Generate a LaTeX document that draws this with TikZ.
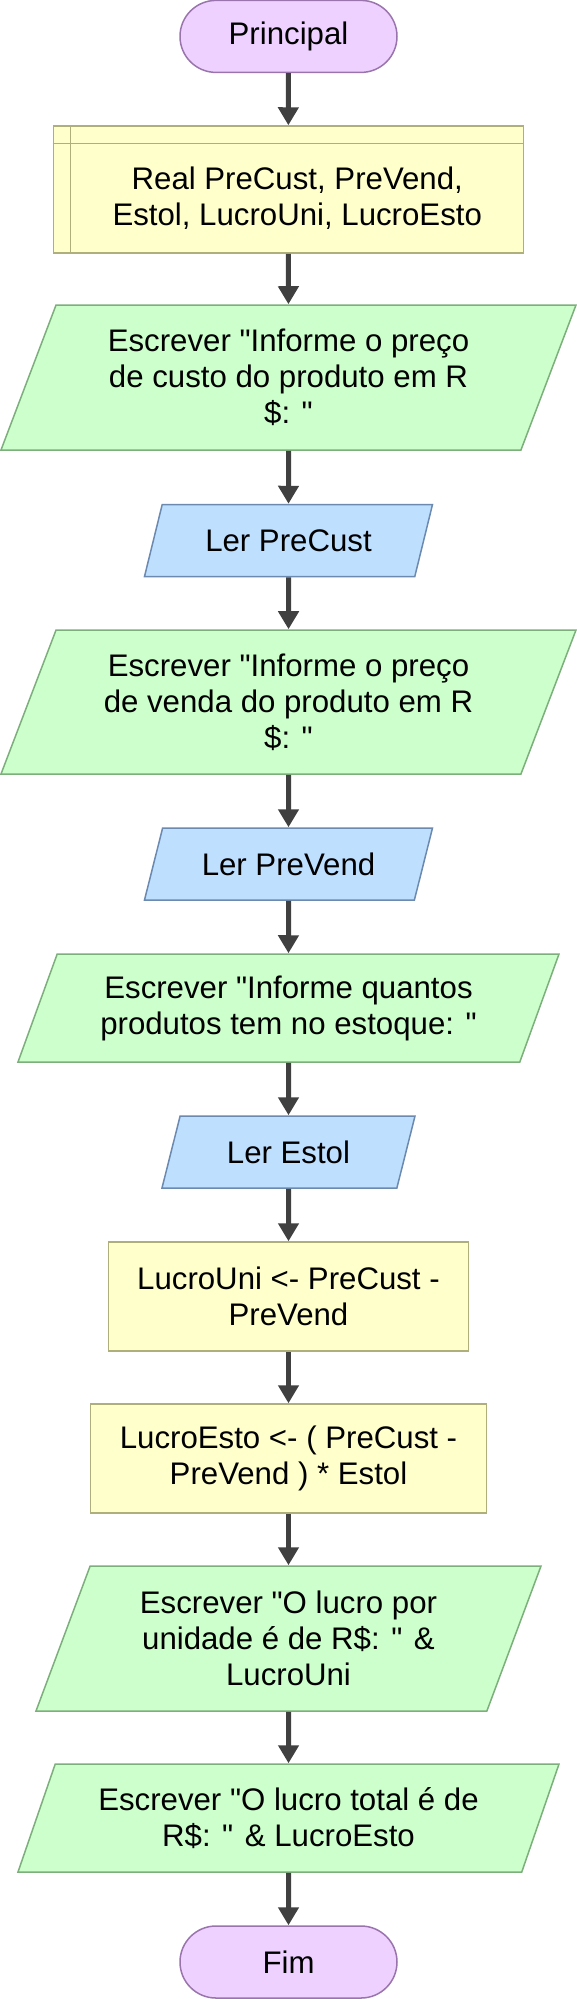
\documentclass[tikz,border=0pt]{standalone}
\usepackage{fontspec}
\setmainfont{Liberation Sans}
\usetikzlibrary{arrows.meta, positioning, shapes.geometric}
\definecolor{TermFill}{HTML}{EFD1FF}
\definecolor{TermLine}{HTML}{9A75AD}
\definecolor{ProcFill}{HTML}{FFFFCC}
\definecolor{ProcLine}{HTML}{AFAF7C}
\definecolor{OutFill}{HTML}{CCFFCC}
\definecolor{OutLine}{HTML}{7DAF7D}
\definecolor{InFill}{HTML}{BFDFFF}
\definecolor{InLine}{HTML}{6C8AB0}
\definecolor{FlowLine}{HTML}{404040}
\newcommand{\qq}{\textquotedbl}

\begin{document}
\begin{tikzpicture}[
        x=0.5pt, y=-0.5pt,
        every node/.style={font=\fontsize{15.6}{18}\selectfont, align=center, line width=0.75pt},
        terminal/.style={rectangle, rounded corners=18pt, fill=TermFill, draw=TermLine, minimum width=108.5pt, minimum height=36pt},
        decl/.style={rectangle, fill=ProcFill, draw=ProcLine, minimum width=235pt, minimum height=63.5pt},
        proc/.style={rectangle, fill=ProcFill, draw=ProcLine, minimum height=54.5pt},
        slanted/.style={trapezium, trapezium left angle=63.43, trapezium right angle=116.57, trapezium stretches body},
        outbox/.style={slanted, fill=OutFill, draw=OutLine},
        inbox/.style={slanted, fill=InFill, draw=InLine, minimum height=36pt},
        flow/.style={draw=FlowLine, line width=2.5pt, -{Triangle[width=10pt, length=9pt]}}
    ]

    % Background
    \fill[white] (0,0) rectangle (577,1999);
    \useasboundingbox (0,0) rectangle (577,1999);

    % Start and declarations
    \node[terminal] (principal) at (288.5,36.4) {Principal};
    \node[decl] (decl) at (288.25,189.5) {};
    \draw[ProcLine, line width=0.75pt] ([xshift=9pt]decl.north west) -- ([xshift=9pt]decl.south west);
    \draw[ProcLine, line width=0.75pt] ([yshift=-9pt]decl.north west) -- ([yshift=-9pt]decl.north east);
    \node (decltext) at ([shift={(4.5pt,-4.5pt)}]decl.center) {Real PreCust, PreVend,\\Estol, LucroUni, LucroEsto};

    % Reading the values
    \node[outbox, minimum width=287.5pt, minimum height=72.5pt] (escrevecusto) at (288.5,377.5) {Escrever \qq Informe o preço\\de custo do produto em R\\\$: \qq};
    \node[inbox, minimum width=144pt] (lercusto) at (288.5,540.5) {Ler PreCust};
    \node[outbox, minimum width=287.5pt, minimum height=72pt] (escrevevenda) at (288.5,702) {Escrever \qq Informe o preço\\de venda do produto em R\\\$: \qq};
    \node[inbox, minimum width=144pt] (lervenda) at (288.5,864) {Ler PreVend};
    \node[outbox, minimum width=270.5pt, minimum height=54pt] (escreveestoque) at (288.5,1008) {Escrever \qq Informe quantos\\produtos tem no estoque: \qq};
    \node[inbox, minimum width=126.5pt] (lerestoque) at (288.5,1152) {Ler Estol};

    % Calculations
    \node[proc, minimum width=180pt] (lucrouni) at (288.5,1296.5) {LucroUni <- PreCust -\\PreVend};
    \node[proc, minimum width=198pt] (lucroesto) at (288.5,1458.5) {LucroEsto <- ( PreCust -\\PreVend ) * Estol};

    % Results
    \node[outbox, minimum width=252.5pt, minimum height=72.5pt] (escreveuni) at (288.5,1638.5) {Escrever \qq O lucro por\\unidade é de R\$: \qq{} \&\\LucroUni};
    \node[outbox, minimum width=270.5pt, minimum height=54pt] (escrevetotal) at (288.5,1818) {Escrever \qq O lucro total é de\\R\$: \qq{} \& LucroEsto};
    \node[terminal] (fim) at (288.5,1962) {Fim};

    % Flow lines
    \foreach \a/\b in {principal/decl, decl/escrevecusto, escrevecusto/lercusto, lercusto/escrevevenda,
        escrevevenda/lervenda, lervenda/escreveestoque, escreveestoque/lerestoque, lerestoque/lucrouni,
        lucrouni/lucroesto, lucroesto/escreveuni, escreveuni/escrevetotal, escrevetotal/fim}
        \draw[flow] (\a) -- (\b);

\end{tikzpicture}
\end{document}
